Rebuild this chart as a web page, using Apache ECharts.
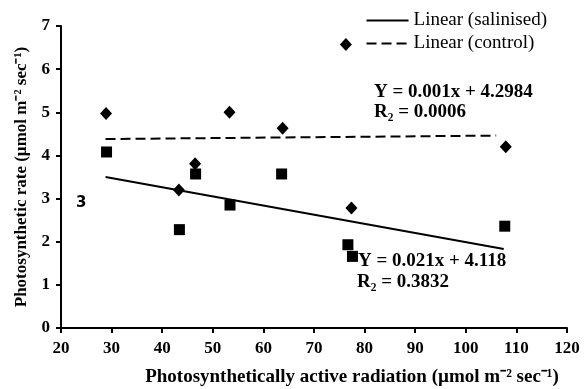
<!DOCTYPE html>
<html>
<head>
<meta charset="utf-8">
<script src="https://cdn.jsdelivr.net/npm/echarts@6/dist/echarts.min.js"></script>
<style>
  html, body { margin: 0; padding: 0; background: #fff; }
  #chart { width: 588px; height: 389px; }
</style>
</head>
<body>
<div id="chart"></div>
<script>
// salinised plants (squares)
const salinisedPoints = [
  [29.0, 4.08], [43.4, 2.28], [46.6, 3.57], [53.4, 2.85],
  [63.6, 3.57], [76.7, 1.93], [77.6, 1.66], [107.7, 2.36]
];
// control plants (diamonds)
const controlPoints = [
  [28.9, 4.97], [43.3, 3.2], [46.5, 3.81], [53.3, 5.0],
  [63.8, 4.63], [76.3, 6.57], [77.4, 2.78], [107.9, 4.2]
];
// trend lines, end points
const salinisedTrend = [[28.8, 3.5], [107.5, 1.83]];
const controlTrend = [[28.8, 4.38], [106.0, 4.46]];

const xTicks = { min: 20, max: 120, step: 10 };
const yTicks = { min: 0, max: 7, step: 1 };

const font = 'Liberation Serif';
const chart = echarts.init(document.getElementById('chart'));

const axisCommon = {
  axisLine: { lineStyle: { color: '#000', width: 2 } },
  axisTick: { inside: false, length: 5, lineStyle: { color: '#000', width: 2 } },
  splitLine: { show: false },
  axisLabel: { color: '#000', fontFamily: font, fontSize: 17, fontWeight: 'bold' },
  nameLocation: 'middle',
  nameTextStyle: { color: '#000', fontFamily: font, fontSize: 19, fontWeight: 'bold' }
};

const noteStyle = { fontFamily: font, fontSize: 19, fontWeight: 'bold', fill: '#000' };

chart.setOption({
  animation: false,
  grid: { left: 61, right: 21, top: 26, bottom: 61, outerBoundsMode: 'none' },
  legend: {
    right: 36,
    top: 6,
    orient: 'vertical',
    itemWidth: 42,
    itemHeight: 10,
    itemGap: 4,
    data: ['Linear (salinised)', 'Linear (control)'],
    itemStyle: { opacity: 0 },
    textStyle: { color: '#000', fontFamily: font, fontSize: 19 }
  },
  xAxis: {
    type: 'value',
    min: xTicks.min, max: xTicks.max, interval: xTicks.step,
    name: 'Photosynthetically active radiation (\u00b5mol m\u207b\u00b2 sec\u207b\u00b9)',
    nameGap: 40,
    ...axisCommon,
    nameTextStyle: { ...axisCommon.nameTextStyle, padding: [0, 0, 0, 76] },
    axisLabel: { ...axisCommon.axisLabel, margin: 12 }
  },
  yAxis: {
    type: 'value',
    min: yTicks.min, max: yTicks.max, interval: yTicks.step,
    name: 'Photosynthetic rate (\u00b5mol m\u207b\u00b2 sec\u207b\u00b9)',
    nameGap: 29,
    ...axisCommon,
    nameTextStyle: { ...axisCommon.nameTextStyle, fontSize: 17 },
    axisLabel: { ...axisCommon.axisLabel, margin: 11 }
  },
  series: [
    {
      name: 'salinised',
      type: 'scatter',
      symbol: 'rect',
      symbolSize: 11,
      itemStyle: { color: '#000', opacity: 1 },
      data: salinisedPoints
    },
    {
      name: 'control',
      type: 'scatter',
      symbol: 'diamond',
      symbolSize: [12, 13],
      itemStyle: { color: '#000', opacity: 1 },
      data: controlPoints
    },
    {
      name: 'Linear (salinised)',
      type: 'line',
      symbol: 'none',
      lineStyle: { color: '#000', width: 2, type: 'solid' },
      itemStyle: { color: '#000' },
      data: salinisedTrend
    },
    {
      name: 'Linear (control)',
      type: 'line',
      symbol: 'none',
      lineStyle: { color: '#000', width: 2, type: [10, 5] },
      itemStyle: { color: '#000' },
      data: controlTrend
    }
  ],
  graphic: [
    { type: 'text', left: 374, top: 83, style: { text: 'Y = 0.001x + 4.2984', ...noteStyle } },
    { type: 'text', left: 374, top: 103, style: { text: 'R\u2082 = 0.0006', ...noteStyle } },
    { type: 'text', left: 358, top: 252, style: { text: 'Y = 0.021x + 4.118', ...noteStyle } },
    { type: 'text', left: 357, top: 273, style: { text: 'R\u2082 = 0.3832', ...noteStyle } },
    { type: 'text', left: 76, top: 196,
      style: { text: '3', fontFamily: 'DejaVu Sans', fontSize: 15, fontWeight: 'bold', fill: '#000' } }
  ]
});
</script>
</body>
</html>
